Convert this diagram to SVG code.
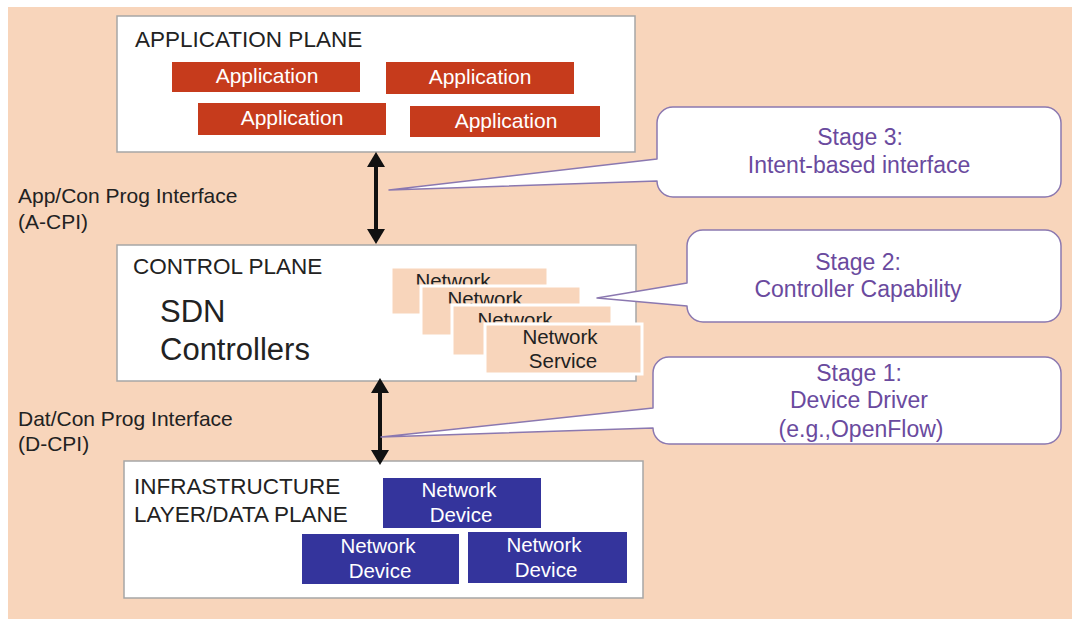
<svg xmlns="http://www.w3.org/2000/svg" width="1072" height="619" viewBox="0 0 1072 619">
  <style>
    text { font-family: "Liberation Sans", Arial, sans-serif; }
    .plane { fill: #ffffff; stroke: #a6a6a6; stroke-width: 1.5; }
    .title { font-size: 22.5px; fill: #222222; }
    .iface { font-size: 21px; fill: #222222; }
    .app { fill: #c63b1c; }
    .appText { font-size: 21px; fill: #ffffff; text-anchor: middle; }
    .svc { fill: #f8d5bb; stroke: #ffffff; stroke-width: 3; }
    .svcText { font-size: 20.5px; fill: #222222; text-anchor: middle; }
    .dev { fill: #34349c; }
    .devText { font-size: 20.5px; fill: #ffffff; text-anchor: middle; }
    .callout { fill: #ffffff; stroke: #8b78b0; stroke-width: 1.5; stroke-linejoin: round; }
    .stageText { font-size: 23px; fill: #6a4a9e; text-anchor: middle; }
    .arrow { stroke: #111111; stroke-width: 4; fill: none; marker-start: url(#head); marker-end: url(#head); }
  </style>
  <defs>
    <marker id="head" markerUnits="userSpaceOnUse" viewBox="0 0 15 18" markerWidth="15" markerHeight="18" refX="10" refY="9" orient="auto-start-reverse">
      <path d="M0,0 L15,9 L0,18 Z" fill="#111111"/>
    </marker>
    <!-- visible parts of the service cards that sit behind the next card -->
    <clipPath id="clipSvc1"><rect x="391" y="267" width="157" height="17.5"/></clipPath>
    <clipPath id="clipSvc2"><rect x="421" y="286" width="160" height="17.5"/></clipPath>
    <clipPath id="clipSvc3"><rect x="452" y="305" width="160" height="17.5"/></clipPath>
  </defs>

  <!-- page background -->
  <rect x="8" y="7" width="1064" height="612" fill="#f8d5bb"/>

  <!-- application plane -->
  <g id="application-plane">
    <rect class="plane" x="117" y="16" width="518" height="136"/>
    <text class="title" x="135" y="47">APPLICATION PLANE</text>
    <rect class="app" x="172" y="62" width="188" height="30"/>
    <text class="appText" x="267" y="83">Application</text>
    <rect class="app" x="386" y="62" width="188" height="32"/>
    <text class="appText" x="480" y="84">Application</text>
    <rect class="app" x="198" y="103" width="188" height="32"/>
    <text class="appText" x="292" y="125">Application</text>
    <rect class="app" x="410" y="106" width="190" height="31"/>
    <text class="appText" x="506" y="128">Application</text>
  </g>

  <!-- control plane -->
  <g id="control-plane">
    <rect class="plane" x="117" y="245" width="519" height="136"/>
    <text class="title" x="133" y="274">CONTROL PLANE</text>
    <text x="160" y="322" font-size="31" fill="#222222">SDN</text>
    <text x="160" y="360" font-size="31" fill="#222222">Controllers</text>
  </g>

  <!-- stacked network services -->
  <g id="network-services">
    <rect class="svc" x="391" y="267" width="157" height="48"/>
    <text class="svcText" x="453" y="287.5" clip-path="url(#clipSvc1)">Network</text>
    <rect class="svc" x="421" y="286" width="160" height="50"/>
    <text class="svcText" x="485" y="305.5" clip-path="url(#clipSvc2)">Network</text>
    <rect class="svc" x="452" y="305" width="160" height="51"/>
    <text class="svcText" x="515" y="326.5" clip-path="url(#clipSvc3)">Network</text>
    <rect class="svc" x="485" y="324" width="157" height="50"/>
    <text class="svcText" x="560" y="344">Network</text>
    <text class="svcText" x="563" y="368">Service</text>
  </g>

  <!-- infrastructure layer -->
  <g id="infrastructure-plane">
    <rect class="plane" x="124" y="461" width="519" height="137"/>
    <text class="title" x="134" y="494">INFRASTRUCTURE</text>
    <text class="title" x="134" y="522">LAYER/DATA PLANE</text>
  </g>

  <g id="device-1">
    <rect class="dev" x="383" y="478" width="158" height="50"/>
    <text class="devText" x="459" y="497">Network</text>
    <text class="devText" x="461" y="522">Device</text>
  </g>
  <g id="device-2">
    <rect class="dev" x="302" y="534" width="157" height="50"/>
    <text class="devText" x="378" y="553">Network</text>
    <text class="devText" x="380" y="578">Device</text>
  </g>
  <g id="device-3">
    <rect class="dev" x="468" y="532" width="159" height="51"/>
    <text class="devText" x="544" y="552">Network</text>
    <text class="devText" x="546" y="577">Device</text>
  </g>

  <!-- interface labels -->
  <g id="a-cpi-label">
    <text class="iface" x="18" y="203">App/Con Prog Interface</text>
    <text class="iface" x="18" y="229">(A-CPI)</text>
  </g>
  <g id="d-cpi-label">
    <text class="iface" x="18" y="426">Dat/Con Prog Interface</text>
    <text class="iface" x="18" y="451">(D-CPI)</text>
  </g>

  <!-- interface arrows -->
  <g id="connectors">
    <line class="arrow" x1="376" y1="157" x2="376" y2="239"/>
    <line class="arrow" x1="380" y1="383" x2="380" y2="460"/>
  </g>

  <!-- stage callouts -->
  <g id="stage-3">
    <path class="callout" d="M673,107 H1045 A16,16 0 0 1 1061,123 V181 A16,16 0 0 1 1045,197 H673 A16,16 0 0 1 657,181 L389,190 L657,159 V123 A16,16 0 0 1 673,107 Z"/>
    <text class="stageText" x="860" y="145">Stage 3:</text>
    <text class="stageText" x="859" y="173">Intent-based interface</text>
  </g>
  <g id="stage-2">
    <path class="callout" d="M703,230 H1045 A16,16 0 0 1 1061,246 V306 A16,16 0 0 1 1045,322 H703 A16,16 0 0 1 687,306 L597,298 L687,283 V246 A16,16 0 0 1 703,230 Z"/>
    <text class="stageText" x="858" y="270">Stage 2:</text>
    <text class="stageText" x="858" y="297">Controller Capability</text>
  </g>
  <g id="stage-1">
    <path class="callout" d="M669,357 H1045 A16,16 0 0 1 1061,373 V428 A16,16 0 0 1 1045,444 H669 A16,16 0 0 1 653,428 L381,437 L653,408 V373 A16,16 0 0 1 669,357 Z"/>
    <text class="stageText" x="859" y="381">Stage 1:</text>
    <text class="stageText" x="859" y="408">Device Driver</text>
    <text class="stageText" x="861" y="437">(e.g.,OpenFlow)</text>
  </g>
</svg>
